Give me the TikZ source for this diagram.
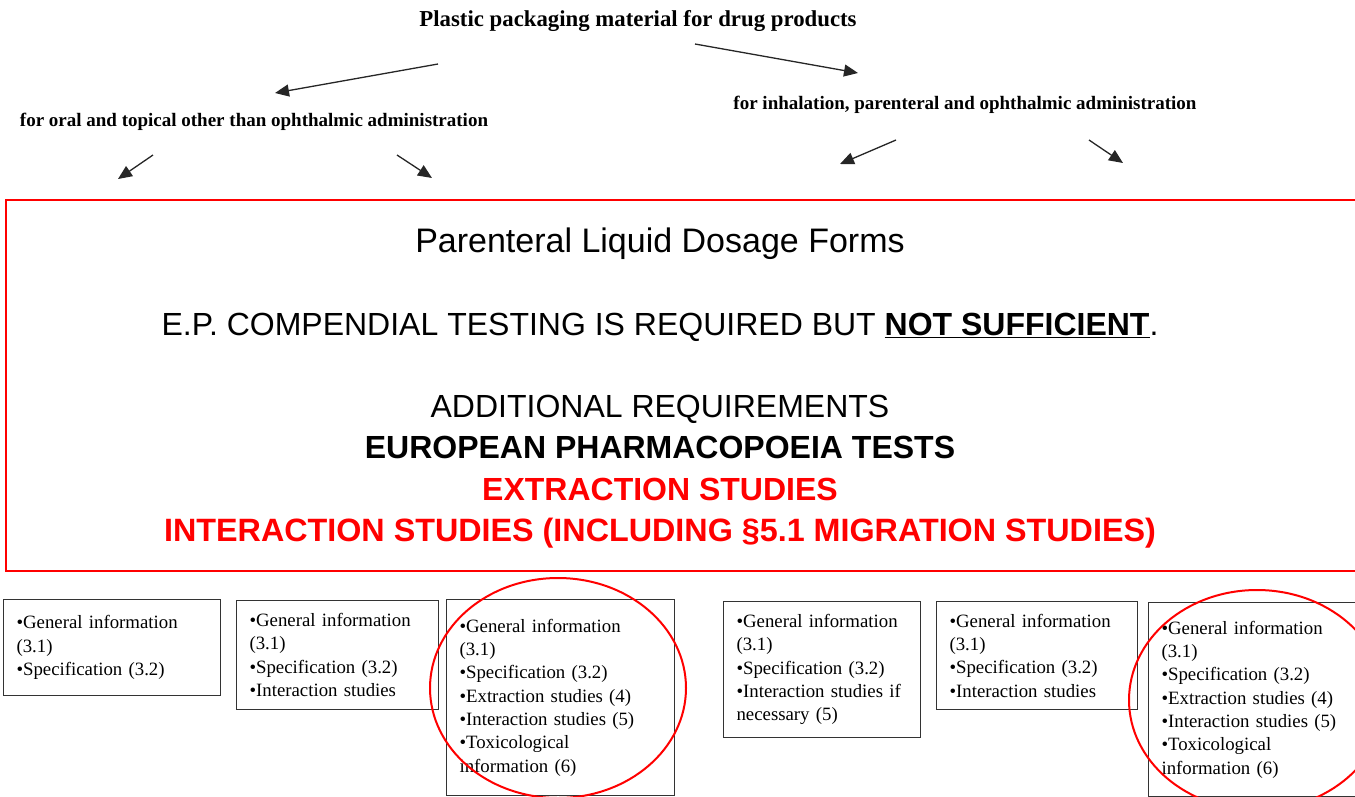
\documentclass[tikz,border=0pt]{standalone}
\usepackage{fontspec}
\setmainfont{Liberation Serif}
\newfontfamily\bannerfont{Liberation Sans}
\usetikzlibrary{arrows.meta,positioning}

\tikzset{
  arr/.style={-{Triangle[length=14pt,width=12pt]}, line width=1.3pt, black!85},
  heading/.style={font=\bfseries\fontsize{22.8}{27}\selectfont},
  branch/.style={font=\bfseries\fontsize{19}{23}\selectfont},
  banner/.style={font=\bannerfont\fontsize{32}{40}\selectfont, text height=24pt, text depth=7pt, inner sep=0pt},
  bold banner/.style={banner, font=\bannerfont\bfseries\fontsize{32}{40}\selectfont},
  frame/.style={draw=red, line width=2pt, anchor=north west},
  info/.style={draw=black!80, line width=1.1pt, anchor=north west, align=left,
    inner xsep=13pt, text width=#1, font=\fontsize{18.8}{23.3}\selectfont},
  ring/.style={draw=red, line width=2pt},
}

\begin{document}
\begin{tikzpicture}[x=1pt,y=-1pt,on grid]
  \useasboundingbox (0,0) rectangle (1355,796);
  \clip (0,0) rectangle (1355,796);

  % headings
  \node[heading] (title) at (638,21) {Plastic packaging material for drug products};
  \node[branch]  (oral)  at (254,122) {for oral and topical other than ophthalmic administration};
  \node[branch]  (inhal) at (965,105) {for inhalation, parenteral and ophthalmic administration};

  % arrow ends
  \coordinate (t1) at (438,64);   \coordinate (o0) at (275,93);
  \coordinate (t2) at (695,44);   \coordinate (i0) at (858,73);
  \coordinate (o1) at (153,155);  \coordinate (o1e) at (118,179);
  \coordinate (o2) at (397,155);  \coordinate (o2e) at (432,178);
  \coordinate (i1) at (896,140);  \coordinate (i1e) at (840,164);
  \coordinate (i2) at (1089,140); \coordinate (i2e) at (1123,163);
  \draw[arr] (t1) -- (o0);
  \draw[arr] (t2) -- (i0);
  \draw[arr] (o1) -- (o1e);
  \draw[arr] (o2) -- (o2e);
  \draw[arr] (i1) -- (i1e);
  \draw[arr] (i2) -- (i2e);

  % red panel
  \node[frame, minimum width=1365pt, minimum height=371pt] (panel) at (5,199) {};
  \node[banner, font=\bannerfont\fontsize{34}{40}\selectfont] (dose) at (660,244) {Parenteral Liquid Dosage Forms};
  \node[banner, below=83pt of dose] (ep) {E.P. COMPENDIAL TESTING IS REQUIRED BUT \textbf{\underline{NOT SUFFICIENT}}.};
  \node[banner, below=82pt of ep] (add) {ADDITIONAL REQUIREMENTS};
  \node[bold banner, below=41pt of add] (eur) {EUROPEAN PHARMACOPOEIA TESTS};
  \node[bold banner, below=42pt of eur, text=red] (ext) {EXTRACTION STUDIES};
  \node[bold banner, below=41pt of ext, text=red, font=\bannerfont\bfseries\fontsize{32.3}{40}\selectfont] (inter) {INTERACTION STUDIES (INCLUDING §5.1 MIGRATION STUDIES)};

  % requirement boxes
  \node[info=191pt, minimum height=96pt] (b1) at (3,599)
    {•General information\\(3.1)\\•Specification (3.2)};
  \node[info=176pt, minimum height=109pt] (b2) at (236,600)
    {•General information\\(3.1)\\•Specification (3.2)\\•Interaction studies};
  \node[info=202pt, minimum height=196pt] (b3) at (446,599)
    {•General information\\(3.1)\\•Specification (3.2)\\•Extraction studies (4)\\•Interaction studies (5)\\•Toxicological\\information (6)\par\vspace{9pt}};
  \node[info=171pt, minimum height=136pt] (b4) at (723,601)
    {•General information\\(3.1)\\•Specification (3.2)\\•Interaction studies if\\necessary (5)};
  \node[info=175pt, minimum height=108pt] (b5) at (936,601)
    {•General information\\(3.1)\\•Specification (3.2)\\•Interaction studies};
  \node[info=204pt, minimum height=194pt] (b6) at (1148,602)
    {•General information\\(3.1)\\•Specification (3.2)\\•Extraction studies (4)\\•Interaction studies (5)\\•Toxicological\\information (6)\par\vspace{9pt}};

  \draw[ring] (558,688) ellipse [x radius=128, y radius=110];
  \draw[ring] (1257,700) ellipse [x radius=128, y radius=110];
\end{tikzpicture}
\end{document}
